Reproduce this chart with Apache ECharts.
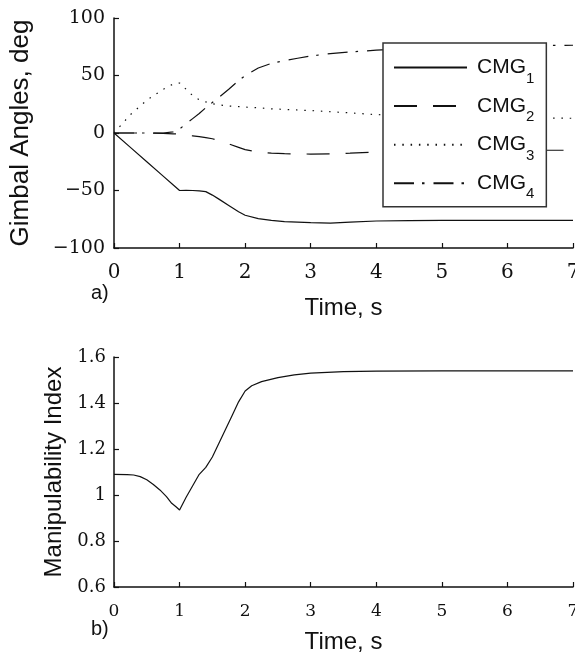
<!DOCTYPE html>
<html>
<head>
<meta charset="utf-8">
<script src="https://cdn.jsdelivr.net/npm/echarts@6/dist/echarts.min.js"></script>
<style>
html,body{margin:0;padding:0;background:#fff;}
#chart{width:575px;height:657px;}
</style>
</head>
<body>
<div id="chart"></div>
<script>
// ---- Data ----
const timeTop = [0, 0.25, 0.5, 0.75, 0.9, 1.0, 1.1, 1.2, 1.3, 1.4, 1.5, 1.6, 1.75, 1.9, 2.0, 2.2, 2.4, 2.6, 2.8, 3.0, 3.3, 3.6, 4.0, 4.5, 5.0, 5.5, 6.0, 6.5, 7.0];
const cmg1 = [0, -12.5, -25, -37.5, -45, -50, -49.8, -50, -50.3, -51, -54, -57.5, -63, -68.5, -71.5, -74.5, -76, -77, -77.5, -78, -78.3, -77.5, -76.5, -76.2, -76, -76, -76, -76, -76];
const cmg2 = [0, 0, 0, -0.3, -0.7, -1, -1.8, -2.5, -3.2, -4, -5, -6.5, -9.5, -12.5, -14.5, -16.5, -17.5, -18, -18.2, -18.3, -18.2, -17.5, -16.5, -15.8, -15.4, -15.2, -15, -15, -15];
const cmg3 = [0, 16, 28.5, 38, 42.5, 43.5, 38, 32.5, 29, 27, 25.5, 24.5, 23.5, 23, 22.5, 22, 21, 20.5, 20, 19.5, 18.5, 17.5, 16, 15, 14.2, 13.7, 13.3, 13, 12.8];
const cmg4 = [0, 0, 0, 0, 1, 3.5, 8, 12.5, 17, 22, 26.5, 31, 38, 45.5, 50, 56.5, 60.5, 63, 65, 67, 69, 70.5, 72, 73.5, 74.5, 75.2, 75.7, 76, 76.3];

const timeBottom = [0, 0.2, 0.3, 0.4, 0.5, 0.6, 0.7, 0.8, 0.88, 0.95, 1.0, 1.1, 1.2, 1.3, 1.4, 1.5, 1.6, 1.7, 1.8, 1.9, 2.0, 2.1, 2.25, 2.5, 2.75, 3.0, 3.5, 4.0, 5.0, 6.0, 7.0];
const manip = [1.09, 1.089, 1.087, 1.08, 1.066, 1.046, 1.022, 0.993, 0.964, 0.948, 0.935, 0.99, 1.04, 1.09, 1.12, 1.165, 1.225, 1.285, 1.345, 1.405, 1.452, 1.475, 1.493, 1.51, 1.522, 1.53, 1.536, 1.539, 1.54, 1.54, 1.54];

const seriesNames = ['CMG1', 'CMG2', 'CMG3', 'CMG4'];
const xTickLabels = ['0', '1', '2', '3', '4', '5', '6', '7'];
const yTickLabelsTop = ['\u2212100', '\u221250', '0', '50', '100'];
const yTickLabelsBottom = ['0.6', '0.8', '1', '1.2', '1.4', '1.6'];

// ---- Chart ----
const chart = echarts.init(document.getElementById('chart'), null, {renderer: 'canvas'});
const ink = '#111';
const serif = 'DejaVu Serif';
const sans = 'Liberation Sans';

function pairs(t, v) { return t.map((x, i) => [x, v[i]]); }

const axisCommon = {
  axisLine: {show: true, onZero: false, lineStyle: {color: ink, width: 1.5}},
  axisTick: {show: true, inside: true, length: 5, lineStyle: {color: ink, width: 1.2}},
  splitLine: {show: false}
};

const lineStyles = [
  {color: ink, width: 1.2, type: 'solid'},
  {color: ink, width: 1.2, type: [23, 16]},
  {color: ink, width: 1.2, type: [1.5, 6.8]},
  {color: ink, width: 1.2, type: [20, 8, 2.5, 9]}
];
const seriesValues = [cmg1, cmg2, cmg3, cmg4];

const option = {
  animation: false,
  backgroundColor: '#ffffff',
  grid: [
    {left: 114, top: 18, width: 459, height: 230, outerBoundsMode: 'none', containLabel: false},
    {left: 114, top: 357, width: 459, height: 230, outerBoundsMode: 'none', containLabel: false}
  ],
  xAxis: [
    Object.assign({}, axisCommon, {
      gridIndex: 0, type: 'value', min: 0, max: 7, interval: 1,
      name: 'Time, s', nameLocation: 'middle', nameGap: 48,
      nameTextStyle: {fontFamily: sans, fontSize: 24, color: ink},
      axisLabel: {margin: 15, fontFamily: serif, fontSize: 20, color: ink,
        formatter: v => xTickLabels[Math.round(v)]}
    }),
    Object.assign({}, axisCommon, {
      gridIndex: 1, type: 'value', min: 0, max: 7, interval: 1,
      name: 'Time, s', nameLocation: 'middle', nameGap: 43,
      nameTextStyle: {fontFamily: sans, fontSize: 24, color: ink},
      axisLabel: {margin: 16, fontFamily: serif, fontSize: 17, color: ink,
        formatter: v => xTickLabels[Math.round(v)]}
    })
  ],
  yAxis: [
    Object.assign({}, axisCommon, {
      gridIndex: 0, type: 'value', min: -100, max: 100, interval: 50,
      name: 'Gimbal Angles, deg', nameLocation: 'middle', nameGap: 80,
      nameTextStyle: {fontFamily: sans, fontSize: 26, color: ink},
      axisLabel: {margin: 9, fontFamily: serif, fontSize: 19, color: ink,
        formatter: v => yTickLabelsTop[Math.round((v + 100) / 50)]}
    }),
    Object.assign({}, axisCommon, {
      gridIndex: 1, type: 'value', min: 0.6, max: 1.6, interval: 0.2,
      name: 'Manipulability Index', nameLocation: 'middle', nameGap: 48,
      nameTextStyle: {fontFamily: sans, fontSize: 24, color: ink},
      axisLabel: {margin: 8, fontFamily: serif, fontSize: 18, color: ink,
        formatter: v => yTickLabelsBottom[Math.round((v - 0.6) / 0.2)]}
    })
  ],
  legend: {
    data: seriesNames,
    orient: 'vertical',
    left: 383, top: 43,
    padding: [14, 12, 5, 10],
    itemGap: 9.6,
    itemWidth: 73, itemHeight: 0.5,
    itemStyle: {color: 'rgba(0,0,0,0)', borderWidth: 0, opacity: 0},
    backgroundColor: '#ffffff',
    borderColor: '#333',
    borderWidth: 1.5,
    borderRadius: 0,
    formatter: name => 'CMG{s|' + name.slice(3) + '}',
    textStyle: {
      fontFamily: sans, fontSize: 21, color: ink, padding: [0, 0, 0, 5],
      rich: {s: {fontFamily: sans, fontSize: 15, color: ink, padding: [22, 0, 0, 0]}}
    }
  },
  graphic: [
    {type: 'text', left: 91, top: 283, style: {text: 'a)', fontFamily: sans, fontSize: 20, fill: ink}},
    {type: 'text', left: 91, top: 619, style: {text: 'b)', fontFamily: sans, fontSize: 20, fill: ink}}
  ],
  series: seriesNames.map((n, i) => ({
    name: n, type: 'line', xAxisIndex: 0, yAxisIndex: 0,
    data: pairs(timeTop, seriesValues[i]),
    symbol: 'none', showSymbol: false,
    lineStyle: lineStyles[i],
    itemStyle: {color: ink}
  })).concat([{
    name: 'Manipulability', type: 'line', xAxisIndex: 1, yAxisIndex: 1,
    data: pairs(timeBottom, manip),
    symbol: 'none', showSymbol: false,
    lineStyle: {color: ink, width: 1.2},
    itemStyle: {color: ink}
  }])
};
chart.setOption(option);
</script>
</body>
</html>
